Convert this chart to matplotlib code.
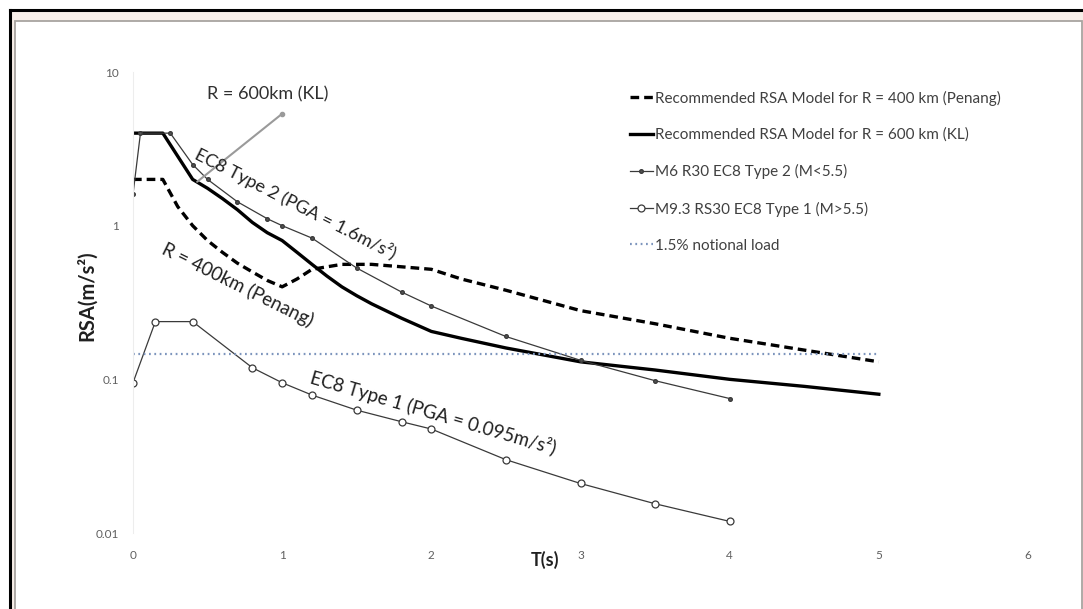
import matplotlib
matplotlib.use("Agg")
import matplotlib.pyplot as plt
from matplotlib.patches import Rectangle
from matplotlib.lines import Line2D

plt.rcParams['font.family'] = ['Lato', 'DejaVu Sans']

# Recommended RSA model, R = 400 km (Penang)
t_penang   = [0, 0.2, 0.3, 0.4, 0.5, 0.6, 0.7, 0.8, 0.9, 1.0, 1.1, 1.2, 1.4, 1.6, 1.8, 2.0, 2.2, 2.5, 3.0, 3.5, 4.0, 4.5, 5.0]
rsa_penang = [2.0, 2.0, 1.33, 1.0, 0.8, 0.67, 0.57, 0.5, 0.44, 0.40, 0.45, 0.52, 0.56, 0.56, 0.54, 0.52, 0.45, 0.38, 0.28, 0.23, 0.185, 0.155, 0.13]

# Recommended RSA model, R = 600 km (KL)
t_kl   = [0, 0.2, 0.4, 0.5, 0.6, 0.7, 0.8, 0.9, 1.0, 1.1, 1.2, 1.3, 1.4, 1.5, 1.6, 1.8, 2.0, 2.2, 2.5, 3.0, 3.5, 4.0, 4.5, 5.0]
rsa_kl = [4.0, 4.0, 2.0, 1.75, 1.5, 1.27, 1.05, 0.9, 0.8, 0.67, 0.56, 0.47, 0.40, 0.35, 0.31, 0.25, 0.205, 0.185, 0.16, 0.13, 0.115, 0.10, 0.09, 0.08]

# M6 R30 EC8 Type 2 (M<5.5)
t_type2   = [0, 0.05, 0.25, 0.4, 0.5, 0.7, 0.9, 1.0, 1.2, 1.5, 1.8, 2.0, 2.5, 3.0, 3.5, 4.0]
rsa_type2 = [1.6, 4.0, 4.0, 2.5, 2.0, 1.43, 1.11, 1.0, 0.83, 0.53, 0.37, 0.30, 0.19, 0.133, 0.098, 0.075]

# M9.3 RS30 EC8 Type 1 (M>5.5)
t_type1   = [0, 0.15, 0.4, 0.8, 1.0, 1.2, 1.5, 1.8, 2.0, 2.5, 3.0, 3.5, 4.0]
rsa_type1 = [0.095, 0.2375, 0.2375, 0.119, 0.095, 0.079, 0.063, 0.053, 0.0475, 0.030, 0.021, 0.0155, 0.0119]

# 1.5% notional load
t_notional   = [0, 5]
rsa_notional = [0.147, 0.147]

x_ticks = [0, 1, 2, 3, 4, 5, 6]
y_ticks = [0.01, 0.1, 1, 10]
y_tick_labels = ['0.01', '0.1', '1', '10']

W, H = 1083, 609
fig = plt.figure(figsize=(W / 100, H / 100), dpi=100)
fig.patch.set_facecolor('white')

# page frame: pink band, black outer line, grey inner box
fig.add_artist(Rectangle((10 / W, 0), 1 - 10 / W, 1 - 10 / H, transform=fig.transFigure,
                         facecolor='#f8efe9', edgecolor='none', zorder=-3))
fig.add_artist(Rectangle((15 / W, -0.01), (1082 - 15) / W, 0.01 + 1 - 21 / H, transform=fig.transFigure,
                         facecolor='white', edgecolor='#a8a4a0', lw=1.3, zorder=-2))
fig.add_artist(Line2D([10 / W, 1], [1 - 10 / H, 1 - 10 / H], transform=fig.transFigure, color='black', lw=2.2))
fig.add_artist(Line2D([10 / W, 10 / W], [0, 1 - 10 / H], transform=fig.transFigure, color='black', lw=2.2))

ax = fig.add_axes([133 / W, 1 - 533 / H, (1028 - 133) / W, (533 - 72) / H])
ax.set_facecolor('none')

ax.plot(t_penang, rsa_penang, color='black', lw=2.4, dashes=(2.6, 1.5),
        label='Recommended RSA Model for R = 400 km (Penang)')
ax.plot(t_kl, rsa_kl, color='black', lw=2.4,
        label='Recommended RSA Model for R = 600 km (KL)')
ax.plot(t_type2, rsa_type2, color='#3a3a3a', lw=0.9, marker='o', markersize=2.6,
        markerfacecolor='#555555', markeredgecolor='#3a3a3a', label='M6 R30 EC8 Type 2 (M<5.5)')
ax.plot(t_type1, rsa_type1, color='#3a3a3a', lw=0.9, marker='o', markersize=5,
        markerfacecolor='white', markeredgecolor='#3a3a3a', markeredgewidth=0.9,
        label='M9.3 RS30 EC8 Type 1 (M>5.5)')
ax.plot(t_notional, rsa_notional, color='#7d95bd', lw=1.6, linestyle=(0, (0.8, 1.6)),
        label='1.5% notional load')

ax.set_yscale('log')
ax.set_xlim(0, 6)
ax.set_ylim(0.01, 10)
ax.set_xticks(x_ticks)
ax.set_yticks(y_ticks)
ax.set_yticklabels(y_tick_labels)
ax.minorticks_off()
ax.tick_params(axis='both', length=0, labelsize=8.5, labelcolor='#606060')
ax.tick_params(axis='y', pad=10)
ax.tick_params(axis='x', pad=12)
for side in ['top', 'right', 'bottom']:
    ax.spines[side].set_visible(False)
ax.spines['left'].set_color('#ededed')

# curve labels written on the chart
ax.text(0.905, 7.1, 'R = 600km (KL)', fontsize=13, color='#303030', ha='center', va='center')
ax.annotate('', xy=(0.43, 1.93), xytext=(1.0, 5.35),
            arrowprops=dict(arrowstyle='-', color='#9a9a9a', lw=1.5, shrinkA=0, shrinkB=0))
ax.plot([1.0], [5.35], marker='o', markersize=3, color='#9a9a9a')
ax.text(1.09, 1.38, 'EC8 Type 2 (PGA = 1.6m/s²)', fontsize=13, color='#202020',
        rotation=-27, ha='center', va='center', rotation_mode='anchor')
ax.text(0.70, 0.413, 'R = 400km (Penang)', fontsize=13.5, color='#202020',
        rotation=-26.3, ha='center', va='center', rotation_mode='anchor')
ax.text(2.01, 0.0607, 'EC8 Type 1 (PGA = 0.095m/s²)', fontsize=13.5, color='#202020',
        rotation=-16.3, ha='center', va='center', rotation_mode='anchor')

fig.text(87 / W, 1 - 296 / H, 'RSA(m/s²)', rotation=90, ha='center', va='center',
         fontsize=14.5, fontweight='bold', color='#202020')
fig.text(545 / W, 1 - 560 / H, 'T(s)', ha='center', va='center',
         fontsize=13, fontweight='bold', color='#202020')

leg = ax.legend(loc='upper left', bbox_to_anchor=(622 / W, 1 - 83 / H),
                bbox_transform=fig.transFigure, frameon=False, fontsize=11,
                handlelength=1.5, handletextpad=0.15, labelspacing=1.45, borderpad=0)
for txt in leg.get_texts():
    txt.set_color('#404040')

fig.savefig('out.png', dpi=100)
